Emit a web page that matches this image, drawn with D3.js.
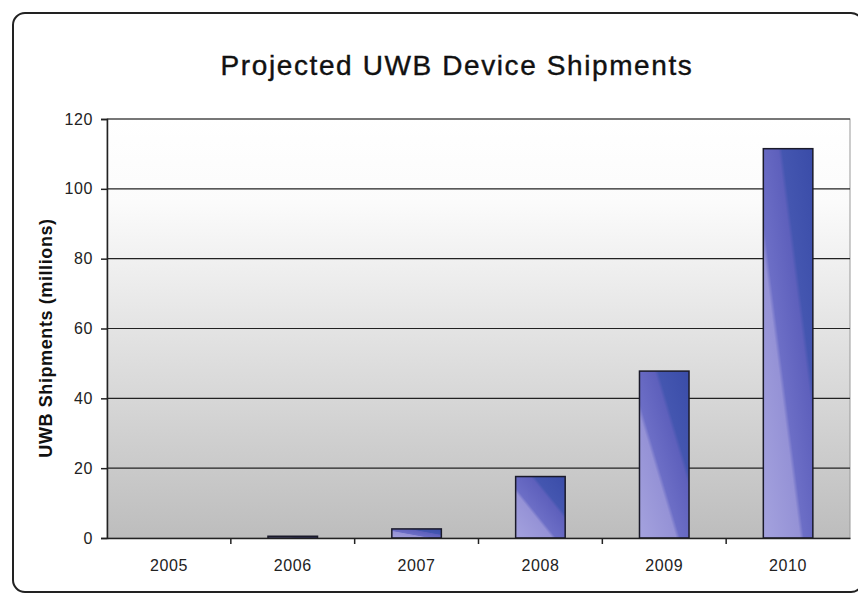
<!DOCTYPE html>
<html>
<script src='https://d3js.org/d3.v7.min.js'></script>
<style>
    body { margin: 0; background: #fff; }
    text { font-family: 'Liberation Sans', Arial, sans-serif; }
</style>

<body>
    <svg width=858 height=595></svg>
    <script>
        // data
        const years = ['2005', '2006', '2007', '2008', '2009', '2010'];
        const shipments = [0, 0.5, 2.6, 17.6, 47.8, 111.5];
        const yTicks = [0, 20, 40, 60, 80, 100, 120];

        const svg = d3.select('svg');
        const pLeft = 107, pRight = 850, pTop = 119, pBottom = 538;

        const defs = svg.append('defs');
        const bg = defs.append('linearGradient').attr('id', 'bg')
            .attr('x1', 0).attr('y1', 0).attr('x2', 0).attr('y2', 1);
        bg.append('stop').attr('offset', '0%').attr('stop-color', '#ffffff');
        bg.append('stop').attr('offset', '20%').attr('stop-color', '#fbfbfb');
        bg.append('stop').attr('offset', '100%').attr('stop-color', '#bdbdbd');

        // diagonal bands: light lower-left, dark upper-right
        const bar = defs.append('linearGradient').attr('id', 'bar')
            .attr('x1', 0).attr('y1', 1).attr('x2', 1).attr('y2', 0);
        bar.append('stop').attr('offset', '0%').attr('stop-color', '#a4a2de');
        bar.append('stop').attr('offset', '37%').attr('stop-color', '#9592d6');
        bar.append('stop').attr('offset', '41%').attr('stop-color', '#6c6ec6');
        bar.append('stop').attr('offset', '65%').attr('stop-color', '#5e60bc');
        bar.append('stop').attr('offset', '69%').attr('stop-color', '#4456b0');
        bar.append('stop').attr('offset', '100%').attr('stop-color', '#3a4ca8');

        // outer frame
        svg.append('rect')
            .attr('x', 13).attr('y', 13).attr('width', 850).attr('height', 579)
            .attr('rx', 12).attr('fill', 'none').attr('stroke', '#222').attr('stroke-width', 2);

        // title
        svg.append('text')
            .attr('x', 457).attr('y', 75)
            .attr('text-anchor', 'middle')
            .attr('font-size', 28).attr('letter-spacing', 1.6)
            .attr('fill', '#111').attr('stroke', '#111').attr('stroke-width', 0.4)
            .text('Projected UWB Device Shipments');

        const x = d3.scaleBand().domain(years).range([pLeft, pRight]).paddingInner(0.6).paddingOuter(0.3);
        const xb = d3.scaleBand().domain(years).range([pLeft, pRight]);
        const y = d3.scaleLinear().domain([0, 120]).range([pBottom, pTop]);

        // plot area
        svg.append('rect')
            .attr('x', pLeft).attr('y', pTop).attr('width', pRight - pLeft).attr('height', pBottom - pTop)
            .attr('fill', 'url(#bg)').attr('stroke', '#999').attr('stroke-width', 1);

        // gridlines
        svg.append('g').selectAll('line')
            .data(yTicks.filter(d => d > 0))
            .enter().append('line')
            .attr('x1', pLeft).attr('x2', pRight)
            .attr('y1', d => y(d)).attr('y2', d => y(d))
            .attr('stroke', '#222').attr('stroke-width', 1.2);

        // bars
        svg.append('g').selectAll('rect')
            .data(shipments)
            .enter().append('rect')
            .attr('x', (d, i) => x(years[i]))
            .attr('y', d => y(d))
            .attr('width', x.bandwidth())
            .attr('height', d => pBottom - y(d))
            .attr('fill', 'url(#bar)')
            .attr('stroke', '#1a1a2a').attr('stroke-width', d => d > 0 ? 1.5 : 0);

        // y axis
        const ya = svg.append('g')
            .attr('transform', 'translate(' + pLeft + ',0)')
            .call(d3.axisLeft(y).tickValues(yTicks).tickSize(6).tickPadding(8));
        ya.select('.domain').attr('stroke', '#222').attr('stroke-width', 1.5);
        ya.selectAll('.tick line').attr('stroke', '#222').attr('stroke-width', 1.5);
        ya.selectAll('text').attr('font-size', 16).attr('letter-spacing', 0.6).attr('fill', '#222')
            .attr('font-family', "'Liberation Sans', Arial, sans-serif");

        // x axis
        const xa = svg.append('g')
            .attr('transform', 'translate(0,' + pBottom + ')')
            .call(d3.axisBottom(xb).tickSize(0).tickPadding(22));
        xa.select('.domain').attr('stroke', '#222').attr('stroke-width', 1.5);
        xa.selectAll('text').attr('font-size', 16).attr('letter-spacing', 0.6).attr('fill', '#222')
            .attr('font-family', "'Liberation Sans', Arial, sans-serif");
        svg.append('g').selectAll('line')
            .data(years.slice(1))
            .enter().append('line')
            .attr('x1', d => xb(d)).attr('x2', d => xb(d))
            .attr('y1', pBottom).attr('y2', pBottom + 6)
            .attr('stroke', '#222').attr('stroke-width', 1.5);

        // y axis title
        svg.append('text')
            .attr('transform', 'translate(52,338) rotate(-90)')
            .attr('text-anchor', 'middle')
            .attr('font-size', 18).attr('font-weight', 'bold').attr('letter-spacing', 0.6)
            .attr('fill', '#111')
            .text('UWB Shipments (millions)');
    </script>
</body>

</html>
